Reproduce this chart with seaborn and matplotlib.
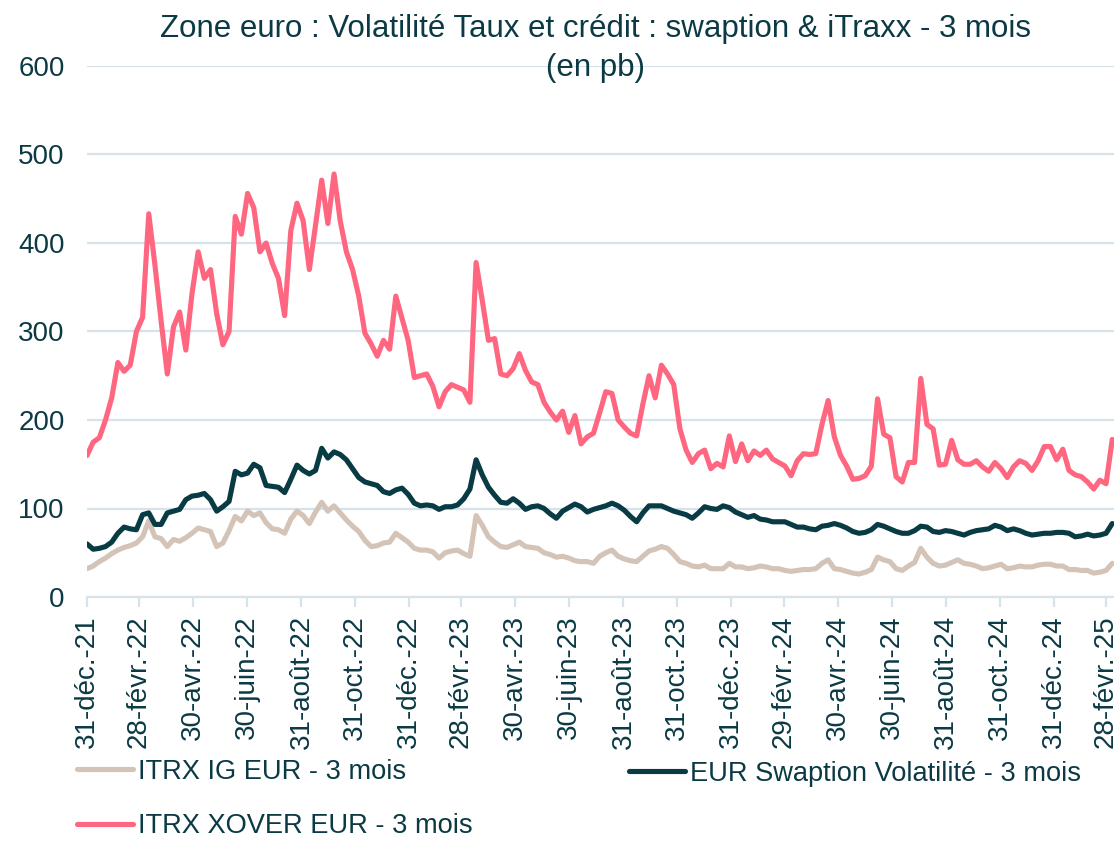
import pandas as pd
import matplotlib
matplotlib.use('Agg')
import matplotlib.pyplot as plt
import seaborn as sns

# weekly points, first one on 31 Dec 2021
START = "2021-12-31"

itrx_xover = [160, 175, 180, 200, 225, 265, 255, 262, 300, 316, 433, 375, 312, 252,
              305, 322, 279, 343, 390, 360, 370, 320, 285, 300, 430, 410, 456, 440,
              390, 400, 377, 360, 318, 414, 445, 425, 370, 420, 471, 422, 478, 425,
              390, 370, 340, 298, 286, 272, 290, 280, 340, 315, 290, 248, 250,
              252, 238, 215, 232, 240, 237, 234, 220, 378, 335, 290, 292, 252, 250,
              258, 275, 256, 243, 240, 220, 209, 200, 210, 186, 205, 173, 181, 185,
              208, 232, 230, 200, 192, 185, 182, 218, 250, 225, 262, 252, 240, 190,
              166, 152, 162, 166, 145, 151, 147, 182, 153, 173, 154, 165, 160,
              166, 156, 152, 148, 137, 154, 162, 161, 162, 195, 222, 181, 160, 148,
              133, 134, 137, 148, 224, 184, 180, 136, 130, 152, 152, 247, 195, 190,
              149, 150, 177, 155, 150, 150, 154, 147, 142, 152, 145, 135, 147, 154,
              151, 143, 154, 170, 170, 155, 167, 143, 138, 136, 130, 122, 132, 128, 178]

swaption_vol = [60, 54, 55, 57, 62, 72, 79, 77, 76, 93, 95, 82, 82, 95,
                97, 99, 110, 114, 115, 117, 110, 97, 102, 108, 142, 138, 140, 150,
                146, 126, 125, 124, 118, 133, 149, 143, 139, 143, 168, 157, 164, 161,
                155, 145, 135, 130, 128, 126, 119, 117, 121, 123, 116, 106, 103,
                104, 103, 99, 102, 102, 104, 111, 122, 155, 138, 124, 115, 107, 106,
                111, 106, 99, 102, 103, 100, 94, 89, 97, 101, 105, 102, 96, 99,
                101, 103, 106, 103, 98, 91, 85, 95, 103, 103, 103, 100, 97, 95,
                93, 89, 95, 102, 100, 99, 103, 101, 96, 93, 90, 92, 88,
                87, 85, 85, 85, 82, 79, 79, 77, 76, 80, 81, 83, 81, 78,
                74, 72, 73, 76, 82, 80, 77, 74, 72, 72, 75, 80, 79, 74,
                73, 75, 74, 72, 70, 73, 75, 76, 77, 81, 79, 75, 77, 75,
                72, 70, 71, 72, 72, 73, 73, 72, 68, 69, 71, 69, 70, 72, 83]

itrx_ig = [32, 35, 40, 44, 49, 53, 56, 58, 61, 68, 86, 68, 66, 57,
           65, 63, 67, 72, 78, 76, 74, 57, 61, 75, 91, 86, 97, 92,
           95, 84, 77, 76, 72, 88, 97, 92, 83, 96, 107, 97, 103, 95,
           87, 80, 74, 64, 57, 58, 61, 62, 72, 67, 62, 55, 53,
           53, 51, 44, 50, 52, 53, 49, 46, 92, 81, 68, 62, 57, 56,
           59, 62, 57, 56, 55, 50, 48, 45, 46, 44, 41, 40, 40, 38,
           46, 50, 53, 46, 43, 41, 40, 46, 52, 54, 57, 55, 48, 40,
           38, 35, 34, 36, 32, 32, 32, 38, 34, 34, 32, 33, 35,
           34, 32, 32, 30, 29, 30, 31, 31, 32, 38, 42, 32, 31, 29,
           27, 26, 28, 31, 45, 42, 40, 32, 30, 35, 39, 55, 45, 38,
           35, 36, 39, 42, 38, 37, 35, 32, 33, 35, 37, 32, 33, 35,
           34, 34, 36, 37, 37, 35, 35, 31, 31, 30, 30, 27, 28, 30, 38]

tick_dates = ["2021-12-31", "2022-02-28", "2022-04-30", "2022-06-30", "2022-08-31",
              "2022-10-31", "2022-12-31", "2023-02-28", "2023-04-30", "2023-06-30",
              "2023-08-31", "2023-10-31", "2023-12-31", "2024-02-29", "2024-04-30",
              "2024-06-30", "2024-08-31", "2024-10-31", "2024-12-31", "2025-02-28"]
tick_labels = ["31-déc.-21", "28-févr.-22", "30-avr.-22", "30-juin-22", "31-août-22",
               "31-oct.-22", "31-déc.-22", "28-févr.-23", "30-avr.-23", "30-juin-23",
               "31-août-23", "31-oct.-23", "31-déc.-23", "29-févr.-24", "30-avr.-24",
               "30-juin-24", "31-août-24", "31-oct.-24", "31-déc.-24", "28-févr.-25"]

y_ticks = [0, 100, 200, 300, 400, 500, 600]

TEXT = '#0b3a44'
GRID = '#d7e3ea'
C_IG = '#d4c3b7'
C_SWAP = '#083b44'
C_XOVER = '#ff6680'

sns.set_theme(style="white")
plt.rcParams['font.family'] = ['Liberation Sans', 'DejaVu Sans']

df = pd.DataFrame({
    'date': pd.date_range(START, periods=len(itrx_xover), freq='7D'),
    'ig': itrx_ig,
    'swap': swaption_vol,
    'xover': itrx_xover,
})

fig = plt.figure(figsize=(11.14, 8.41), dpi=100)
ax = fig.add_axes([87 / 1114, 1 - 597 / 841, 1 - 87 / 1114, (597 - 66) / 841])

line_kw = dict(lw=3.7, solid_joinstyle='round', solid_capstyle='round')
sns.lineplot(data=df, x='date', y='ig', ax=ax, color=C_IG,
             label='ITRX IG EUR - 3 mois', **line_kw)
sns.lineplot(data=df, x='date', y='xover', ax=ax, color=C_XOVER,
             label='ITRX XOVER EUR - 3 mois', **line_kw)
sns.lineplot(data=df, x='date', y='swap', ax=ax, color=C_SWAP,
             label='EUR Swaption Volatilité - 3 mois', **line_kw)

ax.set_ylim(0, 600)
ax.set_xlim(pd.Timestamp(START), pd.Timestamp("2025-03-09"))
ax.set_yticks(y_ticks)
ax.set_xticks(pd.to_datetime(tick_dates))
ax.set_xticklabels(tick_labels, rotation=90)
ax.grid(axis='y', color=GRID, lw=1.6)
ax.set_axisbelow(True)
for s in ['left', 'right', 'top']:
    ax.spines[s].set_visible(False)
ax.spines['bottom'].set_color(GRID)
ax.spines['bottom'].set_linewidth(1.6)
ax.tick_params(axis='x', length=7, width=1.6, color=GRID, pad=6,
               labelsize=20, labelcolor=TEXT, bottom=True)
ax.tick_params(axis='y', length=0, pad=16, labelsize=20, labelcolor=TEXT)
ax.set_xlabel('')
ax.set_ylabel('')

fig.text(0.535, 0.965, "Zone euro : Volatilité Taux et crédit : swaption & iTraxx - 3 mois",
         ha='center', va='center', fontsize=22.5, color=TEXT)
fig.text(0.535, 0.919, "(en pb)", ha='center', va='center', fontsize=22.5, color=TEXT)

handles, labels = ax.get_legend_handles_labels()
ax.get_legend().remove()
leg_kw = dict(frameon=False, fontsize=19.6, handlelength=2.05, handletextpad=0.2,
              labelspacing=1.05, borderpad=0, borderaxespad=0, labelcolor=TEXT)
fig.legend(handles[:2], labels[:2], loc='center left',
           bbox_to_anchor=(77 / 1114, 1 - 799 / 841), **leg_kw)
fig.legend(handles[2:], labels[2:], loc='center left',
           bbox_to_anchor=(629 / 1114, 1 - 774 / 841), **leg_kw)

plt.savefig('out.png', dpi=100)
plt.close()
